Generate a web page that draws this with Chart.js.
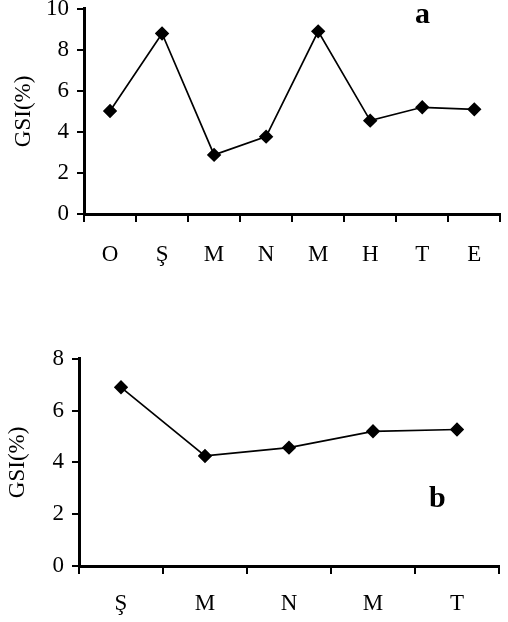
<!DOCTYPE html>
<html>
<head>
<meta charset="utf-8">
<script src="https://cdn.jsdelivr.net/npm/chart.js@4/dist/chart.umd.min.js"></script>
<style>
  html, body { margin: 0; padding: 0; background: #fff; }
  body { width: 508px; height: 622px; position: relative; overflow: hidden; }
  .box { position: absolute; left: 0; }
  .tag { position: absolute; font: bold 30px "Liberation Serif", "Times New Roman", serif; line-height: 1; color: #000; }
</style>
</head>
<body>
<div class="box" id="boxA" style="top:-13px; width:508px; height:287px;"><canvas id="chartA" width="508" height="287"></canvas></div>
<div class="box" id="boxB" style="top:337px; width:508px; height:289px;"><canvas id="chartB" width="508" height="289"></canvas></div>
<div class="tag" style="left:415px; top:-2px;">a</div>
<div class="tag" style="left:429px; top:482px;">b</div>
<script>
// panel a
const monthsA = ['O', 'Ş', 'M', 'N', 'M', 'H', 'T', 'E'];
const gsiA = [5.02, 8.8, 2.88, 3.77, 8.9, 4.55, 5.2, 5.1];
const yTicksA = [0, 2, 4, 6, 8, 10];

// panel b
const monthsB = ['Ş', 'M', 'N', 'M', 'T'];
const gsiB = [6.9, 4.25, 4.57, 5.2, 5.27];
const yTicksB = [0, 2, 4, 6, 8];

const serif = '"Liberation Serif", "Times New Roman", serif';

function makeChart(canvas, labels, values, yTicks, opts) {
  return new Chart(canvas, {
    type: 'line',
    data: {
      labels: labels,
      datasets: [{
        data: values,
        borderColor: '#000',
        backgroundColor: '#000',
        borderWidth: 1.7,
        pointStyle: 'rectRot',
        pointRadius: 6,
        pointBackgroundColor: '#000',
        pointBorderColor: '#000',
        tension: 0
      }]
    },
    options: {
      responsive: false,
      animation: false,
      layout: { padding: { left: 0, right: opts.right, top: 20, bottom: 0 } },
      plugins: { legend: { display: false }, tooltip: { enabled: false } },
      scales: {
        x: {
          type: 'category',
          offset: true,
          grid: { offset: true, drawOnChartArea: false, color: '#000', lineWidth: 2, tickLength: 8 },
          border: { color: '#000', width: 3 },
          ticks: { color: '#000', font: { family: serif, size: 23 }, padding: opts.xPad, maxRotation: 0 },
          afterFit: function(scale) { scale.height = 60; }
        },
        y: {
          min: 0,
          max: yTicks[yTicks.length - 1],
          afterBuildTicks: function(scale) { scale.ticks = yTicks.map(v => ({ value: v })); },
          grid: { drawOnChartArea: false, color: '#000', lineWidth: 2, tickLength: 7 },
          border: { color: '#000', width: 3 },
          ticks: { color: '#000', font: { family: serif, size: 23 }, padding: 8 },
          title: { display: true, text: 'GSI(%)', color: '#000', font: { family: serif, size: 23 }, padding: { top: opts.titlePad, bottom: 0 } },
          afterFit: function(scale) { scale.width = opts.yWidth; }
        }
      }
    }
  });
}

makeChart(document.getElementById('chartA'), monthsA, gsiA, yTicksA, { right: 2, yWidth: 84, xPad: 19, titlePad: 10 });
makeChart(document.getElementById('chartB'), monthsB, gsiB, yTicksB, { right: 9, yWidth: 79, xPad: 16, titlePad: 4 });
</script>
</body>
</html>
